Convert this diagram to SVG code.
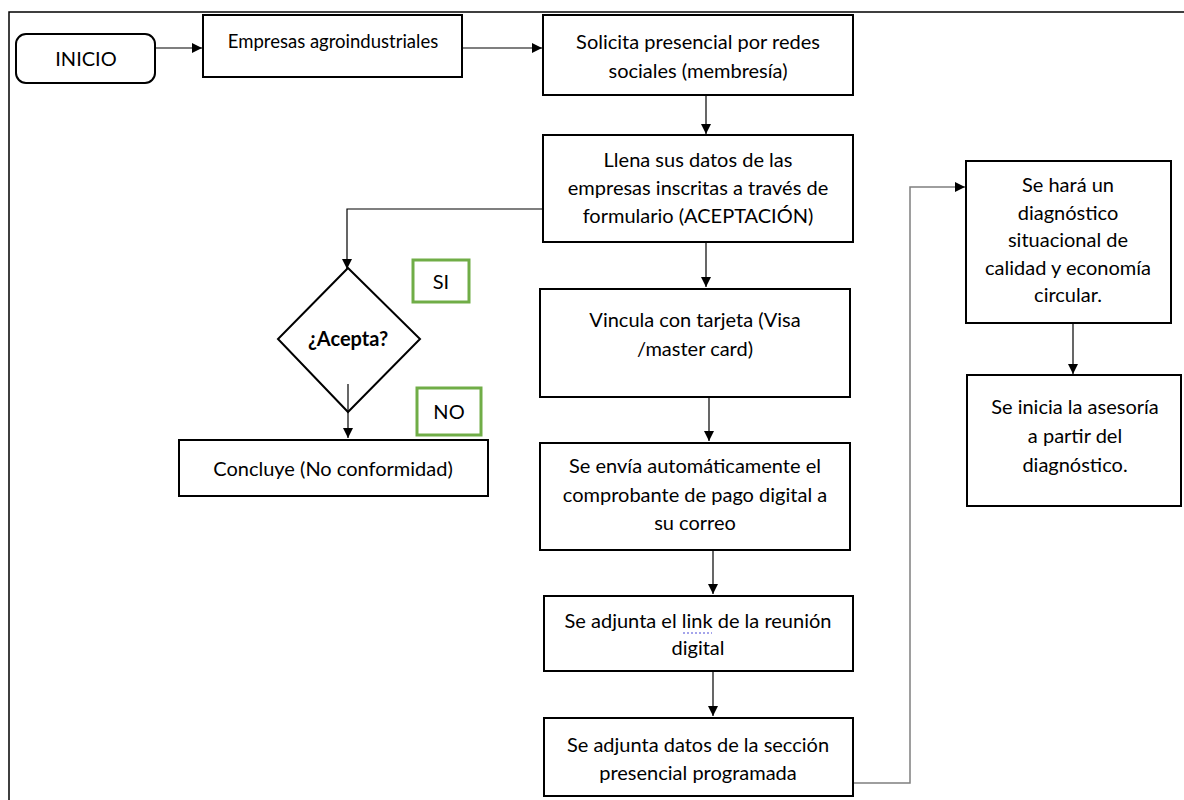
<svg xmlns="http://www.w3.org/2000/svg" width="1184" height="800" viewBox="0 0 1184 800">
<style>
.box{fill:#fff;stroke:#000;stroke-width:2}
.tag{fill:#fff;stroke:#70AD47;stroke-width:3}
.t{font-family:Lato,"Liberation Sans",sans-serif;font-size:20px;fill:#000;text-anchor:middle}
.s{font-size:18.5px}
.b{font-weight:bold}
.c{fill:none;stroke:#000;stroke-width:1.2}
.g{fill:none;stroke:#7f7f7f;stroke-width:1.5}
</style>
<defs>
<marker id="ah" viewBox="0 0 10 10" refX="10" refY="5" markerWidth="11" markerHeight="10" markerUnits="userSpaceOnUse" orient="auto">
<path d="M0,0 L10,5 L0,10 z" fill="#000"/>
</marker>
</defs>
<rect width="1184" height="800" fill="#fff"/>
<path d="M9,800 V12 H1184" fill="none" stroke="#000" stroke-width="1.5"/>
<g id="connectors">
<line class="c" x1="156" y1="48" x2="202" y2="48" marker-end="url(#ah)"/>
<line class="c" x1="462" y1="48" x2="542" y2="48" marker-end="url(#ah)"/>
<line class="c" x1="706" y1="95" x2="706" y2="134" marker-end="url(#ah)"/>
<path class="c" d="M543,209 H347 V269" marker-end="url(#ah)"/>
<line class="c" x1="348" y1="384" x2="348" y2="438" marker-end="url(#ah)"/>
<line class="c" x1="706" y1="242" x2="706" y2="287" marker-end="url(#ah)"/>
<line class="c" x1="709" y1="397" x2="709" y2="441" marker-end="url(#ah)"/>
<line class="c" x1="713" y1="550" x2="713" y2="594" marker-end="url(#ah)"/>
<line class="c" x1="713" y1="671" x2="713" y2="716" marker-end="url(#ah)"/>
<path class="g" d="M853,783 H910 V187 H965" marker-end="url(#ah)"/>
<line class="c" x1="1073" y1="316" x2="1073" y2="374" marker-end="url(#ah)"/>
</g>
<g id="inicio">
<rect class="box" x="16" y="34" width="139" height="49" rx="10"/>
<text class="t" x="86" y="66">INICIO</text>
</g>
<g id="empresas">
<rect class="box" x="203" y="15" width="259" height="62"/>
<text class="t s" x="333" y="48">Empresas agroindustriales</text>
</g>
<g id="solicita">
<rect class="box" x="543" y="15" width="310" height="80"/>
<text class="t" x="698" y="49">Solicita presencial por redes</text>
<text class="t" x="698" y="78">sociales (membresía)</text>
</g>
<g id="llena">
<rect class="box" x="543" y="135" width="310" height="107"/>
<text class="t" x="698" y="167">Llena sus datos de las</text>
<text class="t" x="698" y="195">empresas inscritas a través de</text>
<text class="t" x="698" y="223">formulario (ACEPTACIÓN)</text>
</g>
<g id="acepta">
<polygon points="348,268 420,339 348,412 278,339" fill="#fff" stroke="#000" stroke-width="2"/>
<line class="c" x1="348" y1="384" x2="348" y2="412"/>
<text class="t b" x="348" y="346">¿Acepta?</text>
</g>
<g id="si">
<rect class="tag" x="413" y="260" width="56" height="42"/>
<text class="t" x="441" y="289">SI</text>
</g>
<g id="no">
<rect class="tag" x="417" y="388" width="64" height="47"/>
<text class="t" x="449" y="419">NO</text>
</g>
<g id="concluye">
<rect class="box" x="179" y="440" width="309" height="56"/>
<text class="t" x="333" y="476">Concluye (No conformidad)</text>
</g>
<g id="vincula">
<rect class="box" x="540" y="289" width="310" height="108"/>
<text class="t" x="695" y="327">Vincula con tarjeta (Visa</text>
<text class="t" x="695" y="356">/master card)</text>
</g>
<g id="envia">
<rect class="box" x="540" y="443" width="310" height="107"/>
<text class="t" x="695" y="473">Se envía automáticamente el</text>
<text class="t" x="695" y="502">comprobante de pago digital a</text>
<text class="t" x="695" y="530">su correo</text>
</g>
<g id="link">
<rect class="box" x="544" y="596" width="309" height="75"/>
<text class="t" x="698" y="628">Se adjunta el link de la reunión</text>
<text class="t" x="698" y="655">digital</text>
<line x1="683" y1="633" x2="712" y2="633" stroke="#4a4ad8" stroke-width="1.2" stroke-dasharray="2,2"/>
</g>
<g id="datos">
<rect class="box" x="544" y="718" width="309" height="78"/>
<text class="t" x="698" y="752">Se adjunta datos de la sección</text>
<text class="t" x="698" y="780">presencial programada</text>
</g>
<g id="diagnostico">
<rect class="box" x="966" y="161" width="205" height="162"/>
<text class="t" x="1068" y="192">Se hará un</text>
<text class="t" x="1068" y="219.5">diagnóstico</text>
<text class="t" x="1068" y="247">situacional de</text>
<text class="t" x="1068" y="274.5">calidad y economía</text>
<text class="t" x="1068" y="302">circular.</text>
</g>
<g id="asesoria">
<rect class="box" x="967" y="375" width="214" height="131"/>
<text class="t" x="1075" y="414">Se inicia la asesoría</text>
<text class="t" x="1075" y="443">a partir del</text>
<text class="t" x="1075" y="472">diagnóstico.</text>
</g>
</svg>
